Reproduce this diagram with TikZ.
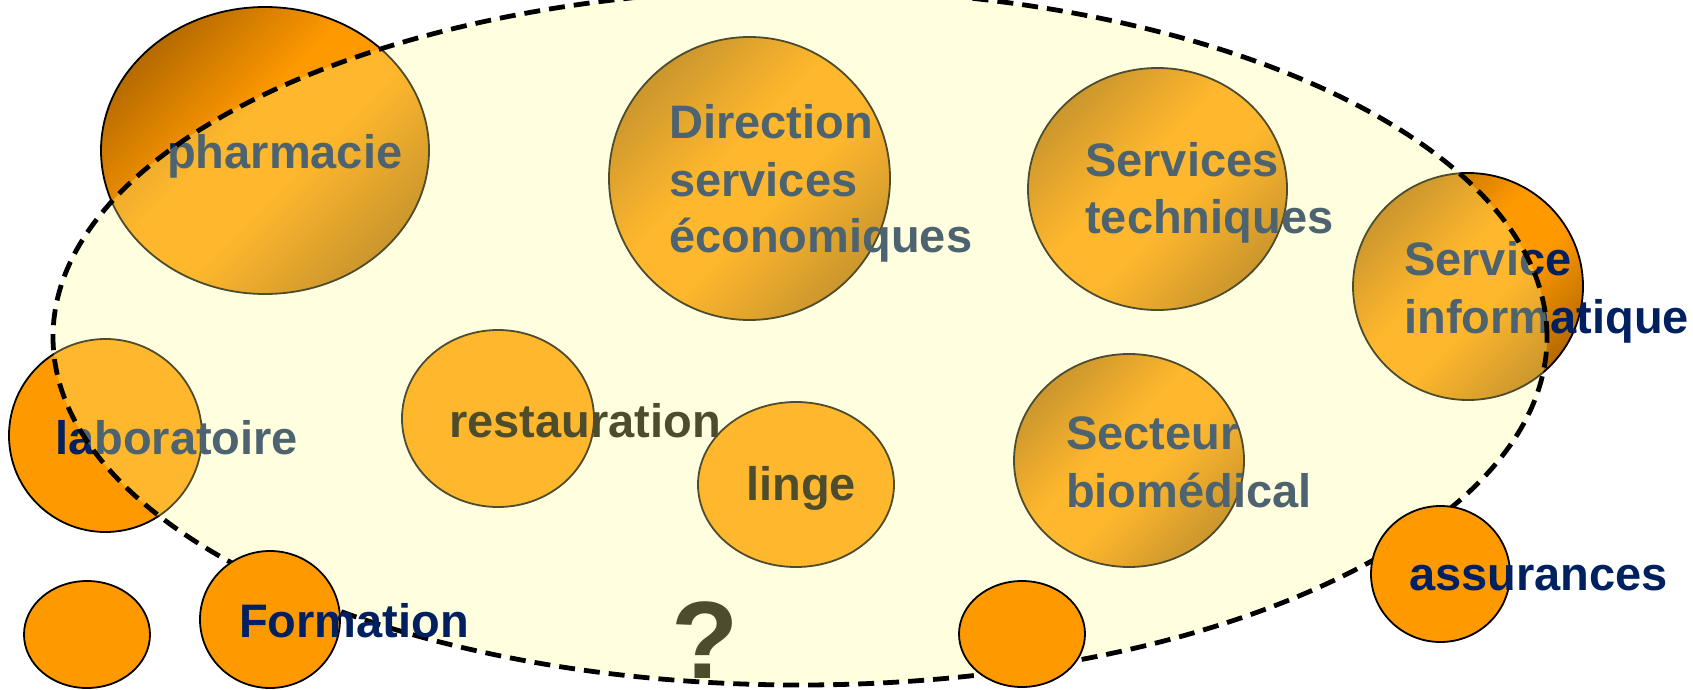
\documentclass[tikz,border=0pt]{standalone}
\usepackage{fontspec}
\setmainfont{Liberation Sans}
\usetikzlibrary{shapes.geometric}
\definecolor{orng}{RGB}{255,153,0}
\definecolor{dkor}{RGB}{150,86,0}
\definecolor{navy}{RGB}{0,32,96}
\definecolor{veil}{RGB}{255,255,150}
\pgfdeclareverticalshading{orbshade}{100bp}{color(0bp)=(dkor); color(17bp)=(dkor); color(44bp)=(orng); color(56bp)=(orng); color(83bp)=(dkor); color(100bp)=(dkor)}
\tikzset{
  ball/.style={ellipse, inner sep=0pt, draw=black, line width=1.8pt},
  gradball/.style={ball, shading=orbshade, shading angle=45},
  flatball/.style={ball, fill=orng},
  lbl/.style={anchor=base west, inner sep=0pt, text=navy, font=\bfseries\fontsize{47}{56}\selectfont},
  blk/.style={lbl, text=black},
  zone/.style={ellipse, inner sep=0pt, fill=veil, fill opacity=0.3, draw=black, line width=4.8pt, dash pattern=on 16pt off 9pt},
}
\begin{document}
\begin{tikzpicture}[x=1pt, y=-1pt]
\useasboundingbox (0,0) rectangle (1693,690);
% circles under the zone
\node[gradball, minimum width=328pt, minimum height=287pt] (ph) at (265,150.5) {};
\node[gradball, minimum width=281pt, minimum height=283pt] (dir) at (749.5,178.5) {};
\node[gradball, minimum width=259pt, minimum height=242pt] (tech) at (1157.5,189) {};
\node[gradball, minimum width=230pt, minimum height=227pt] (info) at (1468,286.5) {};
\node[flatball, minimum width=193pt, minimum height=193pt] (lab) at (105.5,435.5) {};
\node[flatball, minimum width=192pt, minimum height=177pt] (rest) at (498,418.5) {};
\node[flatball, minimum width=196pt, minimum height=165pt] (linge) at (796,484.5) {};
\node[gradball, minimum width=230pt, minimum height=213pt] (bio) at (1129,460.5) {};
% texts under the zone
\node[lbl] (tph) at (167,168) {pharmacie};
\node[lbl] (tdir1) at (669,139) {Direction};
\node[lbl] (tdir2) at (669,196.5) {services};
\node[lbl] (tdir3) at (669,252) {économiques};
\node[lbl] (ttech1) at (1085,176) {Services};
\node[lbl] (ttech2) at (1085,233) {techniques};
\node[lbl] (tinfo1) at (1404,275) {Service};
\node[lbl] (tinfo2) at (1404,333) {informatique};
\node[lbl] (tlab) at (55,454) {laboratoire};
\node[blk] (trest) at (449,437) {restauration};
\node[blk] (tlinge) at (746,500) {linge};
\node[lbl] (tbio1) at (1066,449) {Secteur};
\node[lbl] (tbio2) at (1066,507) {biomédical};
\node[blk, text depth=0pt, font=\bfseries\fontsize{110}{112}\selectfont] (q) at (671,678) {?};
% the zone
\node[zone, minimum width=1494pt, minimum height=696pt] (z) at (800,337) {};
% circles above the zone
\node[flatball, minimum width=126pt, minimum height=107pt] (b1) at (87,634.5) {};
\node[flatball, minimum width=140pt, minimum height=137pt] (form) at (270,619.5) {};
\node[flatball, minimum width=126pt, minimum height=106pt] (b2) at (1022,634) {};
\node[flatball, minimum width=139pt, minimum height=136pt] (ass) at (1440.5,574) {};
\node[lbl] (tform) at (239,637) {Formation};
\node[lbl] (tass) at (1409,590) {assurances};
\end{tikzpicture}
\end{document}
